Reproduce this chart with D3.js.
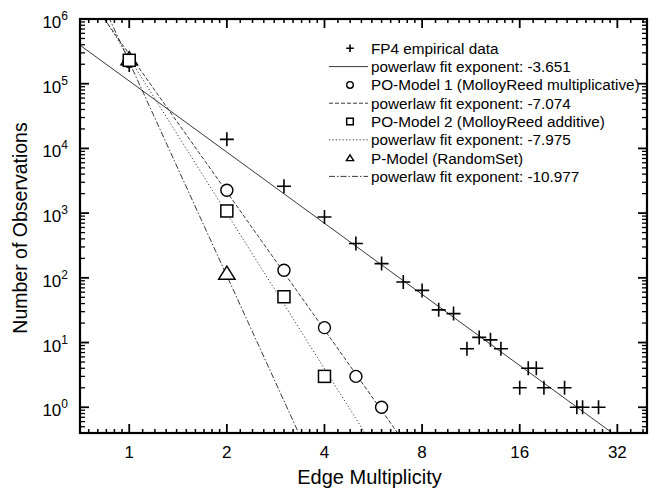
<!DOCTYPE html>
<html>
<head>
<meta charset="utf-8">
<script src="https://d3js.org/d3.v7.min.js"></script>
<style>
  body { margin: 0; background: #fff; }
  svg { display: block; font-family: "Liberation Sans", Arial, sans-serif; }
</style>
</head>
<body>
<svg width="657" height="491"></svg>
<script>
// data
const fp4X = [1, 2, 3, 4, 5, 6, 7, 8, 9, 10, 11, 12, 13, 14, 16, 17, 18, 19, 22, 24, 25, 28];
const fp4Y = [1.95e5, 1.38e4, 2600, 870, 339, 166, 86, 64, 32, 28, 8, 12, 11, 8, 2, 4, 4, 2, 2, 1, 1, 1];
const po1X = [1, 2, 3, 4, 5, 6];
const po1Y = [2.2e5, 2260, 131, 17, 3, 1];
const po2X = [1, 2, 3, 4];
const po2Y = [2.3e5, 1080, 51, 3];
const pmX = [1, 2];
const pmY = [2.4e5, 116];

// power law fits y = c * x^e
const fitExp = [-3.651, -7.074, -7.975, -10.977];
const fitCoef = [1.1e5, 2.86e5, 2.5e5, 2.17e5];

const xTicks = [1, 2, 4, 8, 16, 32];
const yTicks = [1, 10, 100, 1e3, 1e4, 1e5, 1e6];

const legendLabels = [
  'FP4 empirical data',
  'powerlaw fit exponent: -3.651',
  'PO-Model 1 (MolloyReed multiplicative)',
  'powerlaw fit exponent: -7.074',
  'PO-Model 2 (MolloyReed additive)',
  'powerlaw fit exponent: -7.975',
  'P-Model (RandomSet)',
  'powerlaw fit exponent: -10.977'
];

const svg = d3.select('svg');
const pL = 80, pR = 647, pT = 19, pB = 433;

const x = d3.scaleLog().base(2).domain([0.705, 39.5]).range([pL, pR]);
const y = d3.scaleLog().domain([0.4, 1e6]).range([pB, pT]);

const dashes = [null, '4,2', '1.2,2.2', '6,2,1.5,2'];

// minor ticks
const xMinor = [];
for (let k = -1; k <= 5; k++) {
  for (let i = 1; i <= 9; i++) {
    const v = Math.pow(2, k) * (1 + i / 10);
    if (v > x.domain()[0] && v < x.domain()[1]) xMinor.push(v);
  }
}
const yMinor = [];
for (let k = -1; k <= 5; k++) {
  for (let i = 2; i <= 9; i++) {
    const v = i * Math.pow(10, k);
    if (v > y.domain()[0] && v < y.domain()[1]) yMinor.push(v);
  }
}

svg.append('clipPath').attr('id', 'clip')
  .append('rect')
  .attr('x', pL).attr('y', pT)
  .attr('width', pR - pL).attr('height', pB - pT);

// fit lines
const plot = svg.append('g').attr('clip-path', 'url(#clip)');
fitExp.forEach((e, i) => {
  const xs = x.domain();
  plot.append('line')
    .attr('x1', x(xs[0])).attr('y1', y(fitCoef[i] * Math.pow(xs[0], e)))
    .attr('x2', x(xs[1])).attr('y2', y(fitCoef[i] * Math.pow(xs[1], e)))
    .attr('stroke', '#222')
    .attr('stroke-width', 0.9)
    .attr('stroke-dasharray', dashes[i]);
});

// markers
const symPlus = (g, s) => g.append('path')
  .attr('d', `M${-s},0H${s}M0,${-s}V${s}`)
  .attr('stroke', '#000').attr('stroke-width', 1.6).attr('fill', 'none');
const symCircle = (g, s) => g.append('circle').attr('r', s)
  .attr('stroke', '#000').attr('stroke-width', 1.4).attr('fill', '#fff');
const symSquare = (g, s) => g.append('rect')
  .attr('x', -s).attr('y', -s).attr('width', 2 * s).attr('height', 2 * s)
  .attr('stroke', '#000').attr('stroke-width', 1.5).attr('fill', '#fff');
const symTri = (g, s) => g.append('path')
  .attr('d', `M0,${-s}L${s * 1.1},${s * 0.75}L${-s * 1.1},${s * 0.75}Z`)
  .attr('stroke', '#000').attr('stroke-width', 1.4).attr('fill', '#fff');

function drawSeries(xs, ys, sym, size) {
  xs.forEach((v, i) => {
    const g = svg.append('g').attr('transform', `translate(${x(v)},${y(ys[i])})`);
    sym(g, size);
  });
}
drawSeries(fp4X, fp4Y, symPlus, 7);
drawSeries(po1X, po1Y, symCircle, 6);
drawSeries(pmX, pmY, symTri, 7.5);
drawSeries(po2X, po2Y, symSquare, 6);

// axes, ticks inward on all four sides
const axes = svg.append('g');
const tk = (x1, y1, x2, y2, w) => axes.append('line')
  .attr('x1', x1).attr('y1', y1).attr('x2', x2).attr('y2', y2)
  .attr('stroke', '#000').attr('stroke-width', w);

xTicks.forEach(v => {
  tk(x(v), pB, x(v), pB - 9, 1.8);
  tk(x(v), pT, x(v), pT + 9, 1.8);
});
xMinor.forEach(v => {
  tk(x(v), pB, x(v), pB - 4, 1.5);
  tk(x(v), pT, x(v), pT + 4, 1.5);
});
yTicks.forEach(v => {
  tk(pL, y(v), pL + 9, y(v), 1.8);
  tk(pR, y(v), pR - 9, y(v), 1.8);
});
yMinor.forEach(v => {
  tk(pL, y(v), pL + 5, y(v), 1.3);
  tk(pR, y(v), pR - 5, y(v), 1.3);
});

axes.append('rect')
  .attr('x', pL).attr('y', pT)
  .attr('width', pR - pL).attr('height', pB - pT)
  .attr('fill', 'none').attr('stroke', '#000').attr('stroke-width', 2.2);

// tick labels
svg.append('g').selectAll('text')
  .data(xTicks).enter().append('text')
  .attr('x', d => x(d)).attr('y', pB + 25)
  .attr('text-anchor', 'middle')
  .attr('font-size', 17)
  .text(d => d);

const yl = svg.append('g').selectAll('text')
  .data(yTicks).enter().append('text')
  .attr('x', pL - 12).attr('y', d => y(d) + 9)
  .attr('text-anchor', 'end')
  .attr('font-size', 17);
yl.append('tspan').text('10');
yl.append('tspan').attr('dy', -8).attr('font-size', 12).text(d => Math.round(Math.log10(d)));

// axis titles
svg.append('text')
  .attr('x', (pL + pR) / 2 + 6).attr('y', 484)
  .attr('text-anchor', 'middle')
  .attr('font-size', 20)
  .text('Edge Multiplicity');

svg.append('text')
  .attr('transform', `translate(27, 228) rotate(-90)`)
  .attr('text-anchor', 'middle')
  .attr('font-size', 19.5)
  .text('Number of Observations');

// legend
const syms = [symPlus, symCircle, symSquare, symTri];
const leg = svg.append('g');
legendLabels.forEach((t, i) => {
  const cy = 48.3 + 18.3 * i;
  const s = Math.floor(i / 2);
  if (i % 2 === 0) {
    const g = leg.append('g').attr('transform', `translate(350,${cy})`);
    syms[s](g, s === 0 ? 3.8 : 3.3);
  } else {
    leg.append('line')
      .attr('x1', 329).attr('x2', 368).attr('y1', cy).attr('y2', cy)
      .attr('stroke', '#222').attr('stroke-width', 0.9)
      .attr('stroke-dasharray', dashes[s]);
  }
  leg.append('text')
    .attr('x', 371).attr('y', cy + 5.5)
    .attr('font-size', 15.3)
    .text(t);
});
</script>
</body>
</html>
